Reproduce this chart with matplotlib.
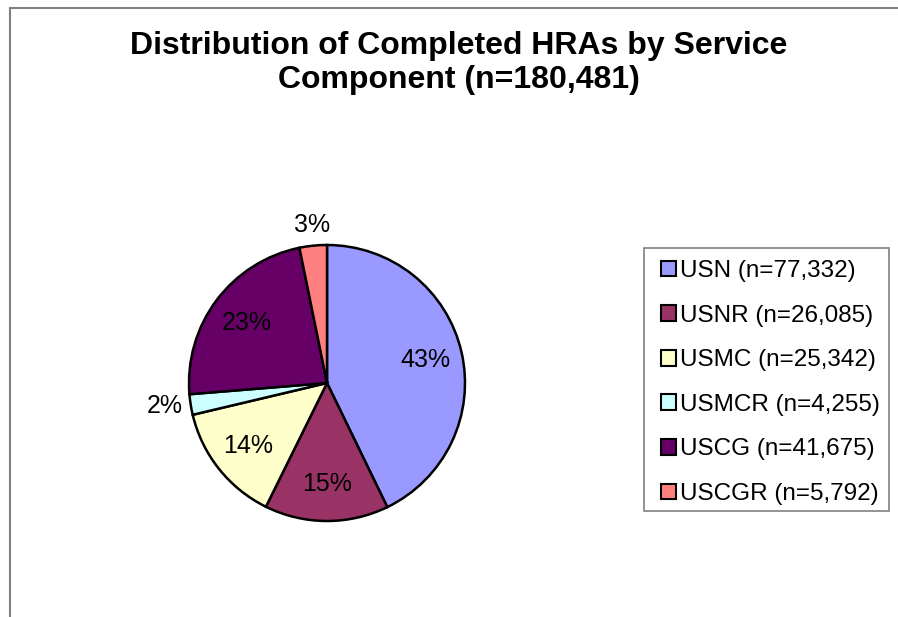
import matplotlib
matplotlib.use("Agg")
import matplotlib.pyplot as plt
from matplotlib.patches import Patch, Rectangle
import numpy as np
from decimal import Decimal, ROUND_HALF_UP

plt.rcParams['font.family'] = ['Liberation Sans', 'DejaVu Sans']

components = ["USN", "USNR", "USMC", "USMCR", "USCG", "USCGR"]
counts = [77332, 26085, 25342, 4255, 41675, 5792]
shares = [42.8, 14.5, 14.0, 2.4, 23.1, 3.2]
colors = ["#9999FF", "#993366", "#FFFFCC", "#CCFFFF", "#660066", "#FF8080"]
title = "Distribution of Completed HRAs by Service\nComponent (n=180,481)"

W, H = 898, 617
fig = plt.figure(figsize=(W / 100, H / 100), dpi=100)

# pie geometry in pixels
cx, cy, r = 327, 617 - 383, 138
ax = fig.add_axes([0, 0, 1, 1])
wedges, _ = ax.pie(shares, colors=colors, startangle=90, counterclock=False,
                   wedgeprops=dict(edgecolor="black", linewidth=1.8))
ax.set_aspect("auto")
ax.set_xlim(-cx / r, (W - cx) / r)
ax.set_ylim(-cy / r, (H - cy) / r)
ax.axis("off")

for w, s in zip(wedges, shares):
    mid = np.deg2rad((w.theta1 + w.theta2) / 2)
    lab = str(Decimal(str(s)).quantize(Decimal("1"), rounding=ROUND_HALF_UP)) + "%"
    if s > 5:
        ax.text(0.73 * np.cos(mid), 0.73 * np.sin(mid), lab, ha="center",
                va="center", fontsize=18, color="black")
    else:
        c, sn = np.cos(mid), np.sin(mid)
        ha = "center" if abs(c) < 0.3 else ("left" if c > 0 else "right")
        va = "center" if abs(sn) < 0.3 else ("bottom" if sn > 0 else "top")
        ax.text(1.06 * c, 1.06 * sn, lab, ha=ha, va=va, fontsize=18,
                color="black")

fig.text(459 / W, 1 - 63 / H, title, ha="center", va="center",
         fontsize=23, fontweight="bold", linespacing=1.17)

handles = [Patch(facecolor=c, edgecolor="black", linewidth=1.5) for c in colors]
labels = [f"{n} (n={v:,})" for n, v in zip(components, counts)]
leg = fig.legend(handles, labels, loc="upper left",
                 bbox_to_anchor=(661 / W, 1 - 260 / H),
                 frameon=False, fontsize=17.5, handlelength=0.62,
                 handleheight=0.62, handletextpad=0.15, labelspacing=0.93,
                 borderpad=0, borderaxespad=0)

# legend box
fig.patches.append(Rectangle((644 / W, 1 - 511 / H), 245 / W, 263 / H,
                             transform=fig.transFigure, fill=False,
                             edgecolor="#808080", linewidth=1.2))

# outer chart-area border (top and left visible)
fig.patches.append(Rectangle((10 / W, -0.2), 2, (1 - 8 / H) + 0.2,
                             transform=fig.transFigure, fill=False,
                             edgecolor="#808080", linewidth=1.5))

fig.savefig("out.png", dpi=100)
